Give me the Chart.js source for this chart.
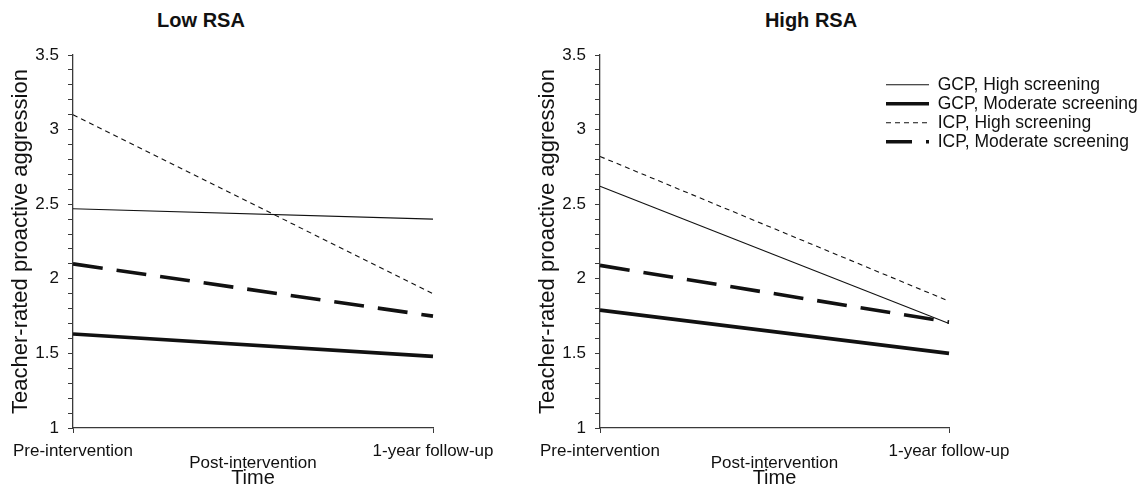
<!DOCTYPE html>
<html>
<head>
<meta charset="utf-8">
<script src="https://cdn.jsdelivr.net/npm/chart.js@4.4.1/dist/chart.umd.min.js"></script>
<style>
body{margin:0;background:#fff;width:1146px;height:488px;position:relative;overflow:hidden;font-family:"Liberation Sans",Arial,sans-serif}
.box{position:absolute;top:0;height:488px}
.ttl{position:absolute;top:9px;font-weight:bold;font-size:20px;color:#111;transform:translateX(-50%);white-space:nowrap}
</style>
</head>
<body>
<div class="ttl" style="left:201px">Low RSA</div>
<div class="ttl" style="left:811px">High RSA</div>
<div class="box" style="left:0;width:520px"><canvas id="low"></canvas></div>
<div class="box" style="left:527px;width:619px"><canvas id="high"></canvas></div>
<script>
// categories + series (middle time point not plotted, lines join pre -> follow-up)
const timePoints = ['Pre-intervention', 'Post-intervention', '1-year follow-up'];
const seriesNames = ['GCP, High screening', 'GCP, Moderate screening', 'ICP, High screening', 'ICP, Moderate screening'];
const yTicks = [1, 1.5, 2, 2.5, 3, 3.5];

const lowGcpHigh = [2.47, null, 2.40];
const lowGcpMod  = [1.63, null, 1.48];
const lowIcpHigh = [3.10, null, 1.90];
const lowIcpMod  = [2.10, null, 1.75];

const highGcpHigh = [2.62, null, 1.70];
const highGcpMod  = [1.79, null, 1.50];
const highIcpHigh = [2.82, null, 1.85];
const highIcpMod  = [2.09, null, 1.71];

const FONT = '"Liberation Sans", Arial, sans-serif';
const axisColor = '#3a3a3a';
const ink = '#111';

// line looks for each series (legendOffset only shifts the dash in the key)
const looks = [
  {w: 1.1, dash: [], legendOffset: 0},
  {w: 3.6, dash: [], legendOffset: 0},
  {w: 1.1, dash: [5, 4], legendOffset: 0},
  {w: 3.6, dash: [30, 14], legendOffset: 4}
];

function makeSets(vals){
  return vals.map((d, i) => ({
    label: seriesNames[i],
    data: d,
    borderColor: ink,
    backgroundColor: ink,
    borderWidth: looks[i].w,
    borderDash: looks[i].dash,
    borderCapStyle: 'butt',
    pointRadius: 0,
    tension: 0,
    spanGaps: true
  }));
}

// point-style legend items lose the dash, so copy it back from the dataset
function keyItems(chart){
  const items = Chart.defaults.plugins.legend.labels.generateLabels(chart);
  items.forEach(it => {
    const ds = chart.data.datasets[it.datasetIndex];
    it.lineDash = ds.borderDash;
    it.lineWidth = ds.borderWidth;
    it.strokeStyle = ds.borderColor;
    it.lineDashOffset = looks[it.datasetIndex].legendOffset;
  });
  return items;
}

// put the legend over the upper right corner of the plot
const legendSpot = {
  id: 'legendSpot',
  beforeDraw(chart){
    const lg = chart.legend;
    if(!lg || !lg.options.display) return;
    const pad = lg.options.labels.padding;
    const a = chart.chartArea;
    lg.left = a.right - 63 - pad;
    lg.top = a.top + 21 - pad;
    lg.right = lg.left + 290;
    lg.bottom = lg.top + 140;
  }
};

function makeChart(id, vals, withLegend, padRight){
  return new Chart(document.getElementById(id), {
    type: 'line',
    data: { labels: timePoints, datasets: makeSets(vals) },
    plugins: [legendSpot],
    options: {
      responsive: true,
      maintainAspectRatio: false,
      animation: false,
      events: [],
      layout: { padding: { left: 0, top: 55, right: padRight, bottom: 0 } },
      plugins: {
        tooltip: { enabled: false },
        legend: {
          display: withLegend,
          position: 'chartArea',
          align: 'start',
          labels: {
            usePointStyle: true,
            pointStyle: 'line',
            pointStyleWidth: 43,
            padding: 1.5,
            color: ink,
            font: { family: FONT, size: 17.5 },
            generateLabels: keyItems
          }
        }
      },
      scales: {
        x: {
          type: 'category',
          offset: false,
          border: { display: true, color: axisColor, width: 1.3 },
          grid: {
            drawOnChartArea: false,
            tickLength: 5,
            tickColor: c => c.index === 1 ? 'rgba(0,0,0,0)' : axisColor
          },
          ticks: {
            autoSkip: false,
            maxRotation: 0,
            padding: 12,
            color: ink,
            font: { family: FONT, size: 17, lineHeight: 0.72 },
            callback: function(v, i){
              const l = this.getLabelForValue(v);
              return i === 1 ? ['', l] : l;
            }
          },
          title: { display: true, text: 'Time', color: ink, font: { family: FONT, size: 20, lineHeight: 1 }, padding: 0 },
          afterFit: s => { s.height = 60; }
        },
        y: {
          min: yTicks[0],
          max: yTicks[yTicks.length - 1],
          border: { display: true, color: axisColor, width: 1.3 },
          grid: { drawOnChartArea: false, tickLength: 5, tickColor: axisColor },
          ticks: {
            stepSize: 0.1,
            autoSkip: false,
            maxTicksLimit: 100,
            padding: 9,
            color: ink,
            font: { family: FONT, size: 17 },
            callback: v => {
              const r = Math.round(v * 10) / 10;
              return yTicks.includes(r) ? String(r) : '';
            }
          },
          title: {
            display: true,
            text: 'Teacher-rated proactive aggression',
            color: ink,
            font: { family: FONT, size: 22 },
            padding: { top: 8, bottom: 0 }
          },
          afterFit: s => { s.width = 73; }
        }
      }
    }
  });
}

makeChart('low', [lowGcpHigh, lowGcpMod, lowIcpHigh, lowIcpMod], false, 87);
makeChart('high', [highGcpHigh, highGcpMod, highIcpHigh, highIcpMod], true, 197);
</script>
</body>
</html>
